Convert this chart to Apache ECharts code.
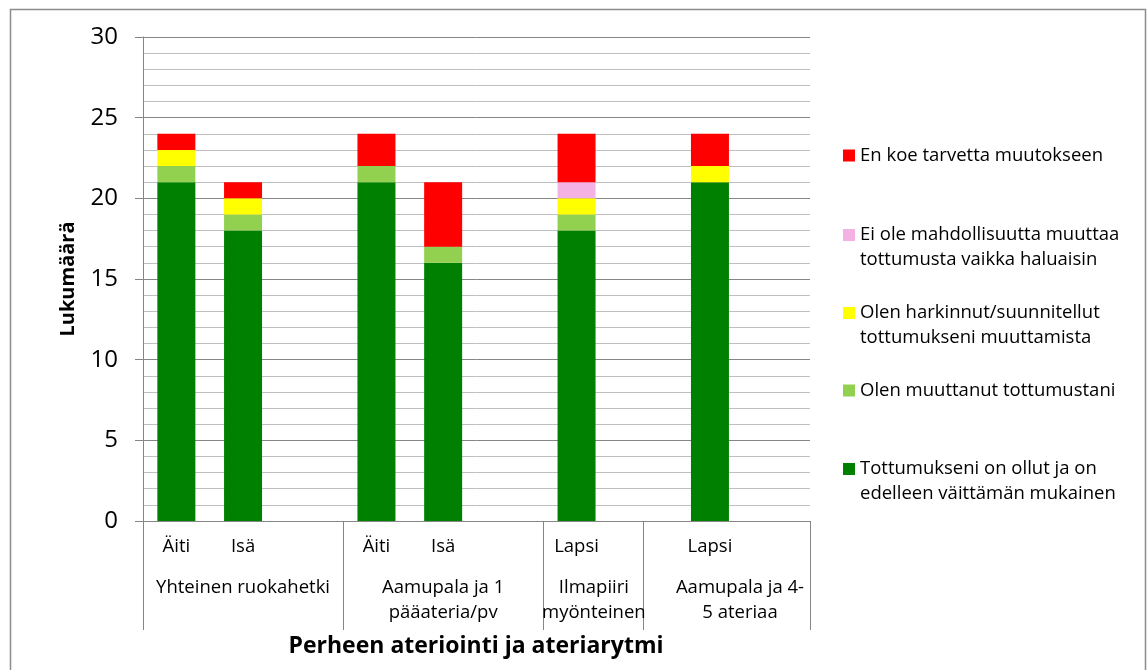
<!DOCTYPE html>
<html><head><meta charset="utf-8">
<script src="https://cdn.jsdelivr.net/npm/echarts@6/dist/echarts.min.js"></script>
<style>html,body{margin:0;padding:0;background:#fff}#c{width:1147px;height:670px}</style>
</head><body><div id="c"></div>
<script>
// Category slots (Excel multi-level axis with blank spacer slots)
const categories = ['Äiti', 'Isä', '', 'Äiti', 'Isä', '', 'Lapsi', '', 'Lapsi', ''];
const groupNames = ['Yhteinen ruokahetki', 'Aamupala ja 1\npääateria/pv', 'Ilmapiiri\nmyönteinen', 'Aamupala ja 4-\n5 ateriaa'];
const groupBounds = [0, 3, 6, 7.5, 10];
const groupLabelAt = [1.5, 4.5, 6.76, 8.95];
const yTicks = [0, 5, 10, 15, 20, 25, 30];

const seriesNames = [
  'Tottumukseni on ollut ja on edelleen väittämän mukainen',
  'Olen muuttanut tottumustani',
  'Olen harkinnut/suunnitellut tottumukseni muuttamista',
  'Ei ole mahdollisuutta muuttaa tottumusta vaikka haluaisin',
  'En koe tarvetta muutokseen'
];
const legendText = [
  'Tottumukseni on ollut ja on\nedelleen väittämän mukainen',
  'Olen muuttanut tottumustani',
  'Olen harkinnut/suunnitellut\ntottumukseni muuttamista',
  'Ei ole mahdollisuutta muuttaa\ntottumusta vaikka haluaisin',
  'En koe tarvetta muutokseen'
];
const colors = ['#008000', '#92D050', '#FFFF00', '#F4B2E4', '#FF0000'];

const tottumus  = [21, 18, null, 21, 16, null, 18, null, 21, null];
const muuttanut = [1, 1, null, 1, 1, null, 1, null, 0, null];
const harkinnut = [1, 1, null, 0, 0, null, 1, null, 1, null];
const eiMahd    = [0, 0, null, 0, 0, null, 1, null, 0, null];
const enKoe     = [1, 1, null, 2, 4, null, 3, null, 2, null];
const seriesData = [tottumus, muuttanut, harkinnut, eiMahd, enKoe];

const FONT = '"Open Sans", "Noto Sans", sans-serif';
const AXIS = '#868686';

const legendTops = [426.5, 373, 270.5, 192.5, 138];

const option = {
  animation: false,
  textStyle: { fontFamily: FONT },
  grid: { left: 143, right: 337, top: 37, bottom: 149 },
  legend: seriesNames.map((n, i) => ({
    data: [n],
    left: 838,
    top: legendTops[i],
    orient: 'vertical',
    icon: 'rect',
    itemWidth: 12,
    itemHeight: 12,
    selectedMode: false,
    textStyle: { fontFamily: FONT, fontSize: 18.5, color: '#000', lineHeight: 25 },
    formatter: () => (legendText[i].indexOf('\n') >= 0 ? '\n' + legendText[i] : legendText[i])
  })),
  xAxis: [{
    type: 'category',
    data: categories,
    axisLine: { lineStyle: { color: AXIS } },
    axisTick: { show: false },
    axisLabel: { color: '#000', fontSize: 18.5, margin: 16, interval: 0, fontFamily: FONT }
  }, {
    type: 'value', min: 0, max: 10, show: false
  }],
  yAxis: {
    type: 'value',
    min: 0, max: 30, interval: 5,
    name: 'Lukumäärä',
    nameLocation: 'middle',
    nameGap: 65,
    nameTextStyle: { fontSize: 20, fontWeight: 'bold', color: '#000', fontFamily: FONT },
    axisLine: { show: true, lineStyle: { color: AXIS } },
    axisTick: { show: true, length: 8, lineStyle: { color: AXIS } },
    axisLabel: { color: '#000', fontSize: 24, margin: 25, fontFamily: FONT },
    splitLine: { show: true, lineStyle: { color: AXIS, width: 1 } },
    minorTick: { show: false, splitNumber: 5 },
    minorSplitLine: { show: true, lineStyle: { color: '#BFBFBF', width: 1 } }
  },
  series: seriesNames.map((n, i) => ({
    name: n,
    type: 'bar',
    stack: 'total',
    barWidth: 38,
    itemStyle: { color: colors[i] },
    data: seriesData[i]
  }))
};

const chart = echarts.init(document.getElementById('c'));
chart.setOption(option);

const y0 = chart.convertToPixel({ yAxisIndex: 0 }, 0);
const px = v => chart.convertToPixel({ xAxisIndex: 1 }, v);
const graphics = [];
groupBounds.forEach(b => {
  const x = Math.round(px(b)) + 0.5;
  graphics.push({ type: 'line', shape: { x1: x, y1: y0, x2: x, y2: y0 + 109 }, style: { stroke: AXIS, lineWidth: 1 }, silent: true });
});
groupNames.forEach((g, i) => {
  graphics.push({
    type: 'text', x: px(groupLabelAt[i]), y: y0 + 54,
    style: { text: g, fontSize: 18.5, lineHeight: 25, fill: '#000', fontFamily: FONT, align: 'center', verticalAlign: 'top' },
    silent: true
  });
});
graphics.push({
  type: 'text', x: 476, y: 646,
  style: { text: 'Perheen ateriointi ja ateriarytmi', fontSize: 23, fontWeight: 'bold', fill: '#000', fontFamily: FONT, align: 'center', verticalAlign: 'middle' },
  silent: true
});
graphics.push({
  type: 'rect', shape: { x: 10.5, y: 9.5, width: 1135, height: 700 },
  style: { fill: null, stroke: '#8C8C8C', lineWidth: 1.5 }, silent: true, z: -1
});
chart.setOption({ graphic: graphics });
</script>
</body></html>
